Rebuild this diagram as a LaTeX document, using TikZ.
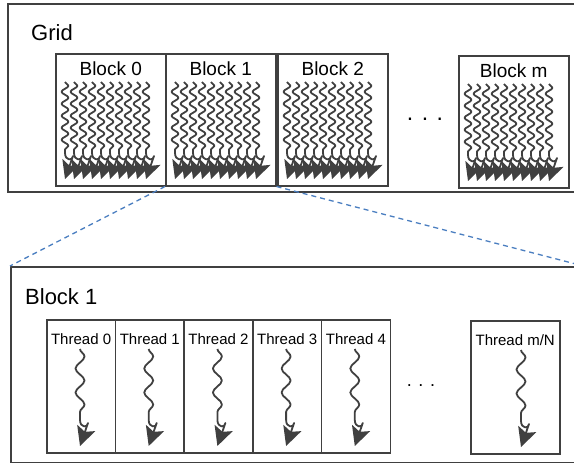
\documentclass[tikz,border=0pt]{standalone}
\usepackage{fontspec}
\setmainfont{Liberation Sans}
\usetikzlibrary{arrows.meta,decorations.pathmorphing,positioning}
\definecolor{linegray}{HTML}{404040}
\definecolor{zoomblue}{HTML}{4A7EC0}
% wave with curl and arrow: x, y top, y end of wave, amplitude, period
\newcommand{\wavy}[6][]{%
    \draw[wavestyle, #1] (#2,#3)
        decorate[decoration={snake, amplitude=#5, segment length=#6}] {-- (#2,#4)}
        .. controls (#2,#4+8) and (#2+8,#4+8) .. (#2+8,#4+3) -- (#2,#4+26);}

\begin{document}
\begin{tikzpicture}[x=1pt,y=-1pt,
    frame/.style={draw=linegray, line width=1.5pt, inner sep=0pt, anchor=north west},
    blockbox/.style={frame, minimum width=110pt, minimum height=132pt},
    threadbox/.style={frame, minimum width=68.7pt, minimum height=133pt},
    biglabel/.style={inner sep=0pt, anchor=base west, font=\fontsize{22}{26}\selectfont},
    blocklabel/.style={inner sep=0pt, anchor=base, font=\fontsize{19}{22}\selectfont},
    threadlabel/.style={inner sep=0pt, anchor=base, font=\fontsize{15}{18}\selectfont},
    wavestyle/.style={draw=linegray, line width=1.8pt, line join=round,
        -{Stealth[length=19pt, width=19pt, inset=4pt]}},
    smallhead/.style={-{Stealth[length=18pt, width=18pt, inset=4pt]}},
    zoomline/.style={draw=zoomblue, line width=1.3pt, dash pattern=on 5pt off 4pt}]
    \clip (0,0) rectangle (574,463);
    % grid with its blocks
    \node[frame, minimum width=573pt, minimum height=188pt] (grid) at (7,3) {};
    \node[biglabel] (gridtxt) at (31,41) {Grid};
    \foreach \name/\x/\y/\txt in {b0/55/53/Block 0, b1/165/53/Block 1, b2/277/53/Block 2, bm/458/55/Block m} {
        \node[blockbox] (\name) at (\x,\y) {};
        \node[blocklabel] (\name-t) at ([yshift=-22pt]\name.north) {\txt};
        \foreach \i [evaluate=\i as \wx using \x+10+9*\i] in {0,...,9} {
            \wavy[smallhead]{\wx}{\y+29}{\y+100}{3.5pt}{12pt}
        }
    }
    \node[blocklabel, font=\fontsize{23}{26}\selectfont] (gdots) at (425,120) {. . .};
    % block 1 with its threads
    \node[frame, minimum width=572pt, minimum height=196pt] (blk) at (10,266) {};
    \node[biglabel] (blktxt) at (25,304) {Block 1};
    \foreach \i [evaluate=\i as \tx using 46+68.7*\i] in {0,...,4} {
        \node[threadbox] (t\i) at (\tx,319) {};
        \node[threadlabel] (t\i-t) at ([yshift=-25pt]t\i.north) {Thread \i};
        \wavy{\tx+34}{349}{420}{4.5pt}{24pt}
    }
    \node[threadbox, minimum width=89pt] (tn) at (470,320) {};
    \node[threadlabel] (tn-t) at ([yshift=-25pt]tn.north) {Thread m/N};
    \wavy{521}{350}{421}{4.5pt}{24pt}
    \node[blocklabel, font=\fontsize{18}{22}\selectfont] (tdots) at (421,386) {. . .};
    % zoom lines
    \draw[zoomline] (b1.south west) -- (blk.north west);
    \draw[zoomline] (b1.south east) -- (blk.north east);
\end{tikzpicture}
\end{document}
